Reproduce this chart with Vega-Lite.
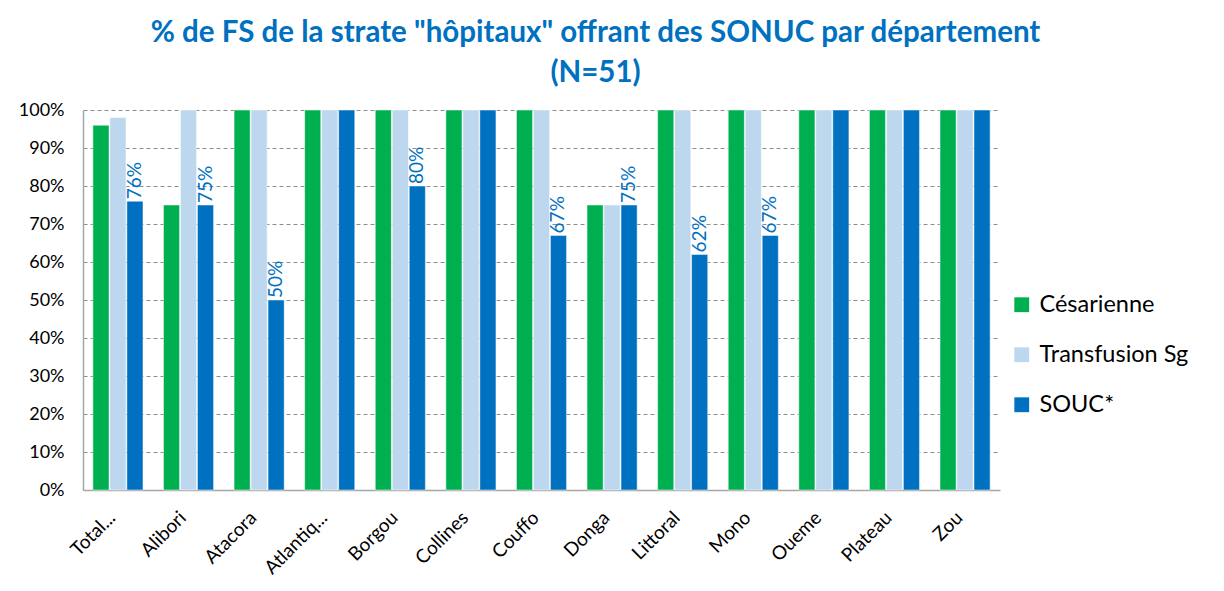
{
  "$schema": "https://vega.github.io/schema/vega-lite/v6.json",
  "width": 917,
  "height": 380,
  "autosize": {"type": "none"},
  "padding": {"left": 83, "top": 110, "right": 224, "bottom": 101},
  "background": "white",
  "title": {
    "text": ["% de FS de la strate \"hôpitaux\" offrant des SONUC par département", "(N=51)"],
    "font": "Lato",
    "fontSize": 29.5,
    "fontWeight": "bold",
    "color": "#0070C0",
    "anchor": "middle",
    "frame": "group",
    "dx": 54,
    "offset": 13,
    "lineHeight": 40
  },
  "data": {
    "values": [
      {"dep": "Total général", "serie": "Césarienne", "v": 0.96},
      {"dep": "Total général", "serie": "Transfusion Sg", "v": 0.98},
      {"dep": "Total général", "serie": "SOUC*", "v": 0.76},
      {"dep": "Alibori", "serie": "Césarienne", "v": 0.75},
      {"dep": "Alibori", "serie": "Transfusion Sg", "v": 1.0},
      {"dep": "Alibori", "serie": "SOUC*", "v": 0.75},
      {"dep": "Atacora", "serie": "Césarienne", "v": 1.0},
      {"dep": "Atacora", "serie": "Transfusion Sg", "v": 1.0},
      {"dep": "Atacora", "serie": "SOUC*", "v": 0.5},
      {"dep": "Atlantique", "serie": "Césarienne", "v": 1.0},
      {"dep": "Atlantique", "serie": "Transfusion Sg", "v": 1.0},
      {"dep": "Atlantique", "serie": "SOUC*", "v": 1.0},
      {"dep": "Borgou", "serie": "Césarienne", "v": 1.0},
      {"dep": "Borgou", "serie": "Transfusion Sg", "v": 1.0},
      {"dep": "Borgou", "serie": "SOUC*", "v": 0.8},
      {"dep": "Collines", "serie": "Césarienne", "v": 1.0},
      {"dep": "Collines", "serie": "Transfusion Sg", "v": 1.0},
      {"dep": "Collines", "serie": "SOUC*", "v": 1.0},
      {"dep": "Couffo", "serie": "Césarienne", "v": 1.0},
      {"dep": "Couffo", "serie": "Transfusion Sg", "v": 1.0},
      {"dep": "Couffo", "serie": "SOUC*", "v": 0.67},
      {"dep": "Donga", "serie": "Césarienne", "v": 0.75},
      {"dep": "Donga", "serie": "Transfusion Sg", "v": 0.75},
      {"dep": "Donga", "serie": "SOUC*", "v": 0.75},
      {"dep": "Littoral", "serie": "Césarienne", "v": 1.0},
      {"dep": "Littoral", "serie": "Transfusion Sg", "v": 1.0},
      {"dep": "Littoral", "serie": "SOUC*", "v": 0.62},
      {"dep": "Mono", "serie": "Césarienne", "v": 1.0},
      {"dep": "Mono", "serie": "Transfusion Sg", "v": 1.0},
      {"dep": "Mono", "serie": "SOUC*", "v": 0.67},
      {"dep": "Oueme", "serie": "Césarienne", "v": 1.0},
      {"dep": "Oueme", "serie": "Transfusion Sg", "v": 1.0},
      {"dep": "Oueme", "serie": "SOUC*", "v": 1.0},
      {"dep": "Plateau", "serie": "Césarienne", "v": 1.0},
      {"dep": "Plateau", "serie": "Transfusion Sg", "v": 1.0},
      {"dep": "Plateau", "serie": "SOUC*", "v": 1.0},
      {"dep": "Zou", "serie": "Césarienne", "v": 1.0},
      {"dep": "Zou", "serie": "Transfusion Sg", "v": 1.0},
      {"dep": "Zou", "serie": "SOUC*", "v": 1.0}
    ]
  },
  "encoding": {
    "x": {
      "field": "dep",
      "type": "nominal",
      "sort": null,
      "scale": {"paddingInner": 0.29, "paddingOuter": 0.14},
      "axis": {
        "title": null,
        "labelAngle": -45,
        "labelFont": "Lato",
        "labelFontSize": 19,
        "labelColor": "#000000",
        "labelExpr": "datum.label == 'Total général' ? 'Total...' : datum.label == 'Atlantique' ? 'Atlantiq...' : datum.label",
        "labelPadding": 18,
        "labelOffset": -12,
        "ticks": false,
        "domainColor": "#A6A6A6",
        "domainWidth": 1.5
      }
    },
    "xOffset": {
      "field": "serie",
      "type": "nominal",
      "sort": ["Césarienne", "Transfusion Sg", "SOUC*"],
      "scale": {"paddingInner": 0.05}
    },
    "y": {
      "field": "v",
      "type": "quantitative",
      "scale": {"domain": [0, 1], "nice": false},
      "axis": {
        "title": null,
        "values": [0, 0.1, 0.2, 0.3, 0.4, 0.5, 0.6, 0.7, 0.8, 0.9, 1],
        "format": ".0%",
        "labelFont": "Lato",
        "labelFontSize": 18,
        "labelColor": "#000000",
        "labelPadding": 19,
        "ticks": false,
        "grid": true,
        "gridColor": "#8C8C8C",
        "gridDash": [4, 3],
        "gridWidth": 1,
        "domainColor": "#A6A6A6",
        "domainWidth": 1.5
      }
    }
  },
  "layer": [
    {
      "mark": {"type": "bar", "stroke": "white", "strokeWidth": 0.5},
      "encoding": {
        "color": {
          "field": "serie",
          "type": "nominal",
          "sort": ["Césarienne", "Transfusion Sg", "SOUC*"],
          "scale": {
            "domain": ["Césarienne", "Transfusion Sg", "SOUC*"],
            "range": ["#00B050", "#BDD7EE", "#0070C0"]
          },
          "legend": {
            "title": null,
            "orient": "none",
            "legendX": 927,
            "legendY": 183,
            "symbolType": "square",
            "symbolSize": 220,
            "symbolStrokeWidth": 0,
            "labelFont": "Lato",
            "labelFontSize": 23.5,
            "labelColor": "#000000",
            "labelOffset": 6,
            "rowPadding": 25
          }
        }
      }
    },
    {
      "transform": [{"filter": "datum.serie == 'SOUC*' && datum.v < 1"}],
      "mark": {
        "type": "text",
        "angle": 270,
        "align": "left",
        "baseline": "middle",
        "dx": 2,
        "font": "Lato",
        "fontSize": 19,
        "color": "#0070C0"
      },
      "encoding": {
        "text": {"field": "v", "type": "quantitative", "format": ".0%"},
        "y": {"field": "v", "type": "quantitative"}
      }
    }
  ],
  "config": {
    "view": {"stroke": null}
  }
}
